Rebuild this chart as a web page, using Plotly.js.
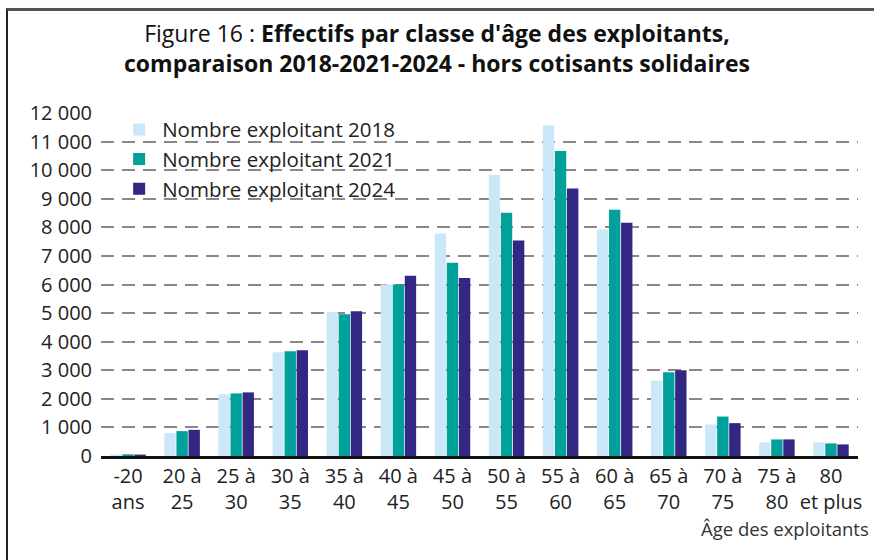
<!DOCTYPE html>
<html>
<head>
<meta charset="utf-8">
<script src="https://cdn.plot.ly/plotly-3.0.1.min.js"></script>
<style>
  html, body { margin: 0; padding: 0; background: #fff; }
  #chart { width: 874px; height: 560px; }
  #frame { position: absolute; left: 6px; top: 8px; width: 870px; height: 560px;
           border-left: 2px solid #222; border-top: 3px solid #555; pointer-events: none; }
</style>
</head>
<body>
<div id="chart"></div>
<div id="frame"></div>
<script>
const categories = ["-20<br>ans", "20 à<br>25", "25 à<br>30", "30 à<br>35", "35 à<br>40", "40 à<br>45",
  "45 à<br>50", "50 à<br>55", "55 à<br>60", "60 à<br>65", "65 à<br>70", "70 à<br>75", "75 à<br>80", "80<br>et plus"];
const series2018 = [50, 800, 2160, 3630, 5040, 6000, 7780, 9840, 11570, 7920, 2640, 1100, 475, 475];
const series2021 = [60, 870, 2190, 3665, 4960, 6000, 6760, 8510, 10670, 8615, 2930, 1380, 580, 440];
const series2024 = [50, 915, 2225, 3700, 5065, 6305, 6225, 7535, 9355, 8160, 3000, 1150, 580, 405];
const seriesNames = ["Nombre exploitant 2018", "Nombre exploitant 2021", "Nombre exploitant 2024"];
const colors = ["#CBE8F8", "#00A19A", "#322783"];
const yTicks = [0, 1000, 2000, 3000, 4000, 5000, 6000, 7000, 8000, 9000, 10000, 11000, 12000];

const FONT = "'Open Sans', 'Noto Sans', sans-serif";
const data = [series2018, series2021, series2024].map((vals, i) => ({
  type: "bar",
  x: categories,
  y: vals,
  name: seriesNames[i],
  marker: { color: colors[i] },
  hoverinfo: "y"
}));

const layout = {
  width: 874, height: 560,
  margin: { l: 101, r: 16, t: 113, b: 104 },
  paper_bgcolor: "#fff", plot_bgcolor: "#fff",
  separators: ", ",
  font: { family: FONT, color: "#222", size: 18 },
  title: {
    text: "Figure 16 : <b>Effectifs par classe d'âge des exploitants,<br>comparaison 2018-2021-2024 - hors cotisants solidaires</b>",
    x: 0.5, xanchor: "center", y: 0.925, yanchor: "top",
    font: { family: FONT, size: 23, color: "#111" }
  },
  barmode: "group",
  bargap: 0.33,
  bargroupgap: 0.06,
  showlegend: true,
  legend: {
    x: 0.02, y: 1.01, xanchor: "left", yanchor: "top",
    bgcolor: "rgba(255,255,255,0)",
    font: { family: FONT, size: 20.5, color: "#222" },
    tracegroupgap: 0, itemwidth: 36
  },
  xaxis: {
    type: "category",
    showgrid: false,
    showline: true, linecolor: "#111", linewidth: 3,
    ticks: "", tickfont: { family: FONT, size: 20, color: "#222" },
    automargin: false
  },
  yaxis: {
    range: [0, 12000],
    tickvals: yTicks,
    tickformat: ",d",
    showgrid: true, gridcolor: "#888", gridwidth: 2, griddash: "13px,8px",
    zeroline: false, showline: false,
    ticks: "", ticklabelstandoff: 8,
    tickfont: { family: FONT, size: 20, color: "#222" },
    automargin: false
  },
  annotations: [{
    text: "Âge des exploitants", xref: "paper", yref: "paper",
    x: 1.017, y: -0.17, xanchor: "right", yanchor: "top", showarrow: false,
    font: { family: FONT, size: 18.5, color: "#333" }
  }]
};

Plotly.newPlot("chart", data, layout, { displayModeBar: false, staticPlot: true });
</script>
</body>
</html>
